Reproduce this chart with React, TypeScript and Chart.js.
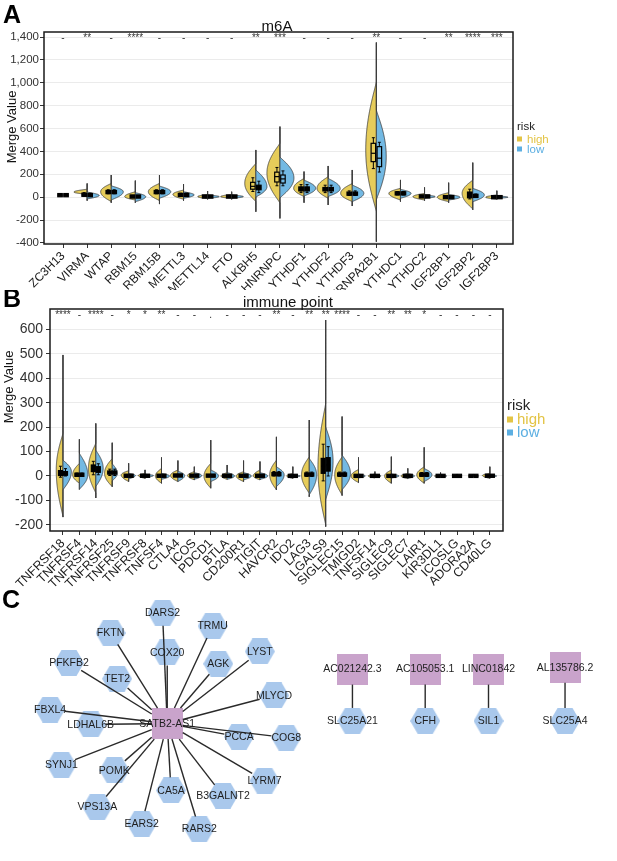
import React, { useEffect, useRef } from 'react';
import { Chart, registerables } from 'chart.js';
Chart.register(...registerables);

const FONT = 'Arial, "Liberation Sans", Helvetica, sans-serif';
Chart.defaults.font.family = FONT;

const YELLOW = '#E6CC5A';
const BLUE = '#73B9E3';
const YELLOW_TXT = '#E3C445';
const BLUE_TXT = '#5CAFE2';

// ---------------- Panel A: m6A ----------------
const m6aGenes = ['ZC3H13', 'VIRMA', 'WTAP', 'RBM15', 'RBM15B', 'METTL3', 'METTL14', 'FTO', 'ALKBH5', 'HNRNPC', 'YTHDF1', 'YTHDF2', 'YTHDF3', 'HNRNPA2B1', 'YTHDC1', 'YTHDC2', 'IGF2BP1', 'IGF2BP2', 'IGF2BP3'];
const m6aSignif = ['-', '**', '-', '****', '-', '-', '-', '-', '**', '***', '-', '-', '-', '**', '-', '-', '**', '****', '***'];
// [tail low, tail high]
const m6aTails = [[18, 18], [-30, 120], [-48, 194], [-48, 145], [-60, 194], [-30, 115], [-19, 54], [-19, 48], [-127, 413], [-185, 617], [-48, 224], [-68, 273], [-77, 238], [-389, 1352], [-39, 151], [-30, 86], [-48, 127], [-110, 302], [-20, 57]];
// [body low, peak, body high, half width]
const m6aHigh = [[15, 18, 21, 0], [25, 45, 70, 0.55], [-39, 48, 121, 0.44], [-25, 5, 48, 0.44], [-30, 48, 121, 0.46], [-18, 25, 63, 0.44], [-13, 5, 25, 0.41], [-10, 5, 25, 0.46], [-39, 121, 296, 0.46], [-51, 211, 473, 0.54], [5, 78, 165, 0.43], [-10, 78, 180, 0.46], [-39, 34, 121, 0.48], [-127, 413, 1010, 0.44], [-25, 34, 78, 0.48], [-25, 5, 34, 0.48], [-39, 0, 40, 0.47], [-103, 34, 150, 0.44], [-18, 0, 20, 0.46]];
const m6aLow = [[15, 18, 21, 0], [-15, 15, 45, 0.5], [-25, 48, 100, 0.5], [-40, 5, 40, 0.43], [-10, 48, 98, 0.47], [-10, 20, 48, 0.44], [-10, 5, 20, 0.48], [-10, 5, 20, 0.48], [0, 92, 240, 0.46], [-7, 168, 352, 0.58], [10, 78, 150, 0.48], [5, 75, 165, 0.5], [-39, 34, 107, 0.48], [-25, 354, 762, 0.41], [-10, 34, 69, 0.44], [-10, 5, 20, 0.44], [-25, 0, 25, 0.47], [-40, 20, 78, 0.48], [-10, 0, 12, 0.46]];
// [whisker low, q1, median, q3, whisker high]
const m6aHighBox = [[14, 16, 18, 20, 22], [10, 15, 20, 28, 40], [30, 38, 45, 52, 65], [0, 3, 6, 9, 15], [30, 38, 45, 52, 65], [10, 15, 20, 25, 35], [2, 4, 6, 8, 12], [2, 4, 6, 8, 12], [50, 70, 95, 130, 170], [100, 133, 180, 219, 260], [40, 55, 70, 90, 110], [40, 55, 65, 85, 105], [15, 22, 30, 40, 55], [250, 311, 384, 471, 520], [20, 27, 33, 40, 50], [2, 4, 7, 10, 14], [-5, -2, 0, 3, 6], [-15, -5, 20, 45, 70], [-3, -1, 0, 2, 4]];
const m6aLowBox = [[14, 16, 18, 20, 22], [5, 12, 18, 25, 35], [30, 38, 45, 52, 65], [0, 3, 6, 9, 15], [30, 38, 45, 52, 65], [10, 15, 20, 25, 35], [2, 4, 6, 8, 12], [2, 4, 6, 8, 12], [40, 65, 80, 105, 140], [100, 124, 160, 194, 230], [40, 55, 70, 90, 110], [40, 55, 65, 85, 105], [15, 22, 30, 40, 55], [220, 267, 341, 442, 480], [20, 27, 33, 40, 50], [2, 4, 7, 10, 14], [-5, -2, 0, 3, 6], [0, 5, 10, 18, 28], [-3, -1, 0, 2, 4]];
const m6aTicks = [-400, -200, 0, 200, 400, 600, 800, 1000, 1200, 1400];

// ---------------- Panel B: immune point ----------------
const immGenes = ['TNFRSF18', 'TNFRSF4', 'TNFRSF14', 'TNFRSF25', 'TNFRSF9', 'TNFRSF8', 'TNFSF4', 'CTLA4', 'ICOS', 'PDCD1', 'BTLA', 'CD200R1', 'TIGIT', 'HAVCR2', 'IDO2', 'LAG3', 'LGALS9', 'SIGLEC15', 'TMIGD2', 'TNFSF14', 'SIGLEC9', 'SIGLEC7', 'LAIR1', 'KIR3DL1', 'ICOSLG', 'ADORA2A', 'CD40LG'];
const immSignif = ['****', '-', '****', '-', '*', '*', '**', '-', '-', '.', '-', '-', '-', '**', '-', '**', '**', '****', '-', '-', '**', '**', '*', '-', '-', '-', '-'];
const immTails = [[-168, 495], [-55, 150], [-90, 215], [-44, 136], [-23, 52], [-10, 25], [-30, 76], [-23, 63], [-16, 38], [-50, 147], [-14, 45], [-23, 63], [-16, 59], [-57, 160], [-10, 38], [-85, 229], [-207, 638], [-80, 243], [-27, 76], [-8, 18], [-30, 79], [-11, 31], [-30, 117], [-5, 14], [-3, 8], [-3, 8], [-10, 38]];
const immHigh = [[-166, 25, 175, 0.41], [-30, 5, 52, 0.41], [-70, 31, 134, 0.45], [-44, 11, 72, 0.47], [-23, 4, 22, 0.45], [-10, 2, 11, 0.41], [-30, 0, 31, 0.37], [-23, 2, 25, 0.45], [-16, 2, 18, 0.41], [-50, 0, 52, 0.41], [-14, 0, 14, 0.37], [-23, 0, 18, 0.45], [-16, 0, 25, 0.41], [-57, 5, 65, 0.41], [-10, 0, 11, 0.37], [-71, 5, 79, 0.47], [-200, 30, 297, 0.47], [-78, 5, 79, 0.45], [-27, 0, 27, 0.45], [-8, 0, 8, 0.41], [-30, 0, 25, 0.41], [-11, 0, 11, 0.41], [-30, 5, 38, 0.45], [-5, 0, 5, 0.37], [-3, 0, 3, 0.31], [-3, 0, 3, 0.31], [-10, 2, 11, 0.45]];
const immLow = [[-57, 18, 65, 0.51], [-55, 5, 93, 0.51], [-44, 31, 106, 0.45], [-20, 11, 50, 0.31], [-12, 2, 11, 0.41], [-7, 2, 7, 0.51], [-14, 0, 11, 0.49], [-23, 2, 20, 0.41], [-14, 2, 14, 0.45], [-23, 0, 25, 0.47], [-14, 0, 14, 0.45], [-16, 0, 14, 0.47], [-14, 0, 14, 0.47], [-44, 5, 38, 0.47], [-5, 0, 5, 0.45], [-78, 5, 72, 0.45], [-98, 60, 202, 0.45], [-57, 10, 86, 0.51], [-8, 0, 8, 0.41], [-6, 0, 6, 0.37], [-8, 0, 8, 0.47], [-10, 0, 10, 0.41], [-23, 5, 31, 0.47], [-4, 0, 4, 0.37], [-3, 0, 3, 0.31], [-3, 0, 3, 0.31], [-6, 0, 6, 0.41]];
const immHighBox = [[-5, 2, 10, 22, 40], [0, 2, 5, 8, 12], [5, 18, 31, 45, 60], [2, 8, 14, 20, 28], [-2, 0, 1, 2, 4], [-1, 0, 1, 2, 3], [-2, 0, 1, 2, 4], [-2, 0, 2, 4, 6], [-2, 0, 1, 3, 5], [-2, 0, 1, 3, 5], [-2, 0, 1, 2, 4], [-2, 0, 1, 2, 4], [-2, 0, 1, 2, 4], [0, 3, 6, 12, 18], [-1, 0, 0, 1, 2], [-2, 2, 5, 10, 16], [-20, 11, 40, 72, 130], [-2, 2, 5, 10, 16], [-1, 0, 0, 1, 2], [-1, 0, 0, 1, 2], [-1, 0, 0, 1, 2], [-1, 0, 0, 1, 2], [-2, 2, 5, 9, 14], [-1, 0, 0, 1, 2], [-1, 0, 0, 1, 2], [-1, 0, 0, 1, 2], [-1, 0, 1, 2, 3]];
const immLowBox = [[0, 3, 8, 18, 30], [0, 2, 5, 8, 12], [5, 15, 25, 38, 50], [2, 8, 14, 20, 28], [-2, 0, 1, 2, 4], [-1, 0, 1, 2, 3], [-2, 0, 1, 2, 4], [-2, 0, 2, 4, 6], [-2, 0, 1, 3, 5], [-2, 0, 1, 3, 5], [-2, 0, 1, 2, 4], [-2, 0, 1, 2, 4], [-2, 0, 1, 2, 4], [0, 3, 6, 12, 18], [-1, 0, 0, 1, 2], [-2, 2, 5, 10, 16], [0, 20, 45, 75, 120], [-2, 2, 5, 10, 16], [-1, 0, 0, 1, 2], [-1, 0, 0, 1, 2], [-1, 0, 0, 1, 2], [-1, 0, 0, 1, 2], [-2, 2, 5, 9, 14], [-1, 0, 0, 1, 2], [-1, 0, 0, 1, 2], [-1, 0, 0, 1, 2], [-1, 0, 1, 2, 3]];
const immTicks = [-200, -100, 0, 100, 200, 300, 400, 500, 600];

// ---------------- Panel C: network ----------------
const lncNames = ['SATB2-AS1', 'AC021242.3', 'AC105053.1', 'LINC01842', 'AL135786.2'];
const lncX = [159, 355, 432, 499, 580];
const lncY = [144, 82, 82, 82, 80];
const geneNames = ['DARS2', 'FKTN', 'TRMU', 'COX20', 'LYST', 'PFKFB2', 'AGK', 'TET2', 'MLYCD', 'FBXL4', 'LDHAL6B', 'PCCA', 'COG8', 'SYNJ1', 'POMK', 'LYRM7', 'CA5A', 'B3GALNT2', 'VPS13A', 'EARS2', 'RARS2', 'SLC25A21', 'CFH', 'SIL1', 'SLC25A4'];
const geneX = [154, 99, 207, 159, 257, 55, 213, 106, 272, 35, 78, 235, 285, 47, 103, 262, 163, 218, 85, 132, 193, 355, 432, 499, 580];
const geneY = [18, 41, 33, 63, 62, 75, 76, 93, 112, 128, 145, 159, 160, 191, 197, 209, 220, 226, 239, 258, 264, 141, 141, 141, 141];
const netEdges = [
  ['SATB2-AS1', 'DARS2'], ['SATB2-AS1', 'FKTN'], ['SATB2-AS1', 'TRMU'], ['SATB2-AS1', 'COX20'], ['SATB2-AS1', 'LYST'],
  ['SATB2-AS1', 'PFKFB2'], ['SATB2-AS1', 'AGK'], ['SATB2-AS1', 'TET2'], ['SATB2-AS1', 'MLYCD'], ['SATB2-AS1', 'FBXL4'],
  ['SATB2-AS1', 'LDHAL6B'], ['SATB2-AS1', 'PCCA'], ['SATB2-AS1', 'COG8'], ['SATB2-AS1', 'SYNJ1'], ['SATB2-AS1', 'POMK'],
  ['SATB2-AS1', 'LYRM7'], ['SATB2-AS1', 'CA5A'], ['SATB2-AS1', 'B3GALNT2'], ['SATB2-AS1', 'VPS13A'], ['SATB2-AS1', 'EARS2'],
  ['SATB2-AS1', 'RARS2'], ['AC021242.3', 'SLC25A21'], ['AC105053.1', 'CFH'], ['LINC01842', 'SIL1'], ['AL135786.2', 'SLC25A4'],
];

// ---------------- drawing helpers ----------------
function drawHalf(ctx: any, xs: any, ys: any, i: number, side: number, tail: number[], body: number[], color: string) {
  const [lo, hi] = tail;
  const [bLo, peak, bHi, w] = body;
  if (hi <= lo) return;
  const spanUp = Math.max(bHi - peak, 0.5);
  const spanDn = Math.max(peak - bLo, 0.5);
  const N = 260;
  const cx = xs.getPixelForValue(i);
  ctx.beginPath();
  ctx.moveTo(cx, ys.getPixelForValue(lo));
  for (let k = 0; k <= N; k++) {
    const v = lo + ((hi - lo) * k) / N;
    const d = v >= peak ? (v - peak) / spanUp : (peak - v) / spanDn;
    const g = d >= 1 ? 0 : Math.pow(1 - d * d, 1.15);
    ctx.lineTo(xs.getPixelForValue(i + side * w * g), ys.getPixelForValue(v));
  }
  ctx.lineTo(cx, ys.getPixelForValue(hi));
  ctx.closePath();
  ctx.fillStyle = color;
  ctx.fill();
  ctx.lineWidth = 0.8;
  ctx.strokeStyle = '#3a3a3a';
  ctx.stroke();
}

function drawBox(ctx: any, xs: any, ys: any, i: number, side: number, box: number[], color: string, off: number, bw: number, solid: boolean) {
  const [wl, q1, med, q3, wh] = box;
  const cx = xs.getPixelForValue(i) + side * off;
  const yWl = ys.getPixelForValue(wl);
  const yWh = ys.getPixelForValue(wh);
  let y1 = ys.getPixelForValue(q1);
  let y3 = ys.getPixelForValue(q3);
  const small = solid || y1 - y3 < 6;
  if (y1 - y3 < 3.2) {
    const m = (y1 + y3) / 2;
    y1 = m + 1.6;
    y3 = m - 1.6;
  }
  ctx.strokeStyle = '#000';
  ctx.lineWidth = 1;
  ctx.beginPath();
  ctx.moveTo(cx, yWl);
  ctx.lineTo(cx, yWh);
  ctx.moveTo(cx - 1.5, yWl);
  ctx.lineTo(cx + 1.5, yWl);
  ctx.moveTo(cx - 1.5, yWh);
  ctx.lineTo(cx + 1.5, yWh);
  ctx.stroke();
  ctx.fillStyle = small ? '#000' : color;
  ctx.fillRect(cx - bw / 2, y3, bw, y1 - y3);
  ctx.lineWidth = 1.2;
  ctx.strokeRect(cx - bw / 2, y3, bw, y1 - y3);
  const ym = ys.getPixelForValue(med);
  ctx.beginPath();
  ctx.moveTo(cx - bw / 2, ym);
  ctx.lineTo(cx + bw / 2, ym);
  ctx.stroke();
}

type Panel = {
  id: string;
  genes: string[]; signif: string[]; tails: number[][]; high: number[][]; low: number[][];
  highBox: number[][]; lowBox: number[][]; ticks: number[];
  xMin: number; xMax: number; yMin: number; yMax: number;
  padTop: number; padRight: number; yAxisW: number; xAxisH: number;
  tickSize: number; labelSize: number; tickPad: number; fmt: (v: number) => string;
  title: string; titleX: number; titleY: number;
  yTitleX: number; yTitleY: number; letter: string; letterY: number;
  leg: { x: number; textX: number; riskY: number; highY: number; lowY: number; size: number; sq: number };
  boxOff: number; boxW: number; solidBox: boolean;
};

function violinConfig(p: Panel): any {
  const plugin = {
    id: 'violin_' + p.id,
    beforeDatasetsDraw(chart: any) {
      const { ctx, chartArea: ca, scales } = chart;
      const xs = scales.x, ys = scales.y;
      ctx.save();
      ctx.beginPath();
      ctx.rect(ca.left, ca.top, ca.right - ca.left, ca.bottom - ca.top);
      ctx.clip();
      p.genes.forEach((_, i) => {
        drawHalf(ctx, xs, ys, i, -1, p.tails[i], p.high[i], YELLOW);
        drawHalf(ctx, xs, ys, i, 1, p.tails[i], p.low[i], BLUE);
      });
      p.genes.forEach((_, i) => {
        drawBox(ctx, xs, ys, i, -1, p.highBox[i], YELLOW, p.boxOff, p.boxW, p.solidBox);
        drawBox(ctx, xs, ys, i, 1, p.lowBox[i], BLUE, p.boxOff, p.boxW, p.solidBox);
      });
      ctx.restore();
    },
    afterDraw(chart: any) {
      const { ctx, chartArea: ca, scales } = chart;
      const xs = scales.x;
      ctx.save();
      ctx.strokeStyle = '#1a1a1a';
      ctx.lineWidth = 1.5;
      ctx.strokeRect(ca.left, ca.top, ca.right - ca.left, ca.bottom - ca.top);
      ctx.fillStyle = '#333';
      ctx.font = `10px ${FONT}`;
      ctx.textAlign = 'center';
      ctx.textBaseline = 'alphabetic';
      p.signif.forEach((s, i) => ctx.fillText(s, xs.getPixelForValue(i), ca.top + 8.5));
      ctx.fillStyle = '#111';
      ctx.font = `15px ${FONT}`;
      ctx.fillText(p.title, p.titleX, p.titleY);
      ctx.save();
      ctx.translate(p.yTitleX, p.yTitleY);
      ctx.rotate(-Math.PI / 2);
      ctx.textBaseline = 'middle';
      ctx.font = `13px ${FONT}`;
      ctx.fillText('Merge Value', 0, 0);
      ctx.restore();
      ctx.font = `bold 25px ${FONT}`;
      ctx.textAlign = 'left';
      ctx.fillStyle = '#000';
      ctx.fillText(p.letter, 3, p.letterY);
      const L = p.leg;
      ctx.font = `${L.size}px ${FONT}`;
      ctx.fillStyle = '#222';
      ctx.fillText('risk', L.x, L.riskY);
      ctx.fillStyle = YELLOW_TXT;
      ctx.fillRect(L.x, L.highY - L.sq - 1.5, L.sq, L.sq);
      ctx.fillText('high', L.textX, L.highY);
      ctx.fillStyle = BLUE_TXT;
      ctx.fillRect(L.x, L.lowY - L.sq - 1.5, L.sq, L.sq);
      ctx.fillText('low', L.textX, L.lowY);
      ctx.restore();
    },
  };
  return {
    type: 'scatter',
    data: {
      datasets: [
        { label: 'high', data: p.highBox.map((b, i) => ({ x: i, y: b[2] })), pointRadius: 0, backgroundColor: YELLOW },
        { label: 'low', data: p.lowBox.map((b, i) => ({ x: i, y: b[2] })), pointRadius: 0, backgroundColor: BLUE },
      ],
    },
    options: {
      animation: false,
      responsive: false,
      events: [],
      layout: { padding: { left: 0, top: p.padTop, right: p.padRight, bottom: 0 } },
      plugins: { legend: { display: false }, tooltip: { enabled: false }, title: { display: false } },
      scales: {
        x: {
          type: 'linear', min: p.xMin, max: p.xMax,
          afterBuildTicks: (s: any) => { s.ticks = p.genes.map((_, i) => ({ value: i })); },
          afterFit: (s: any) => { s.height = p.xAxisH; s.paddingLeft = 0; s.paddingRight = 0; },
          grid: { drawOnChartArea: false, tickLength: 4, tickColor: '#333', lineWidth: 1 },
          border: { display: false },
          ticks: {
            autoSkip: false, maxRotation: 45, minRotation: 45, padding: 1,
            font: { size: p.labelSize }, color: '#1a1a1a',
            callback: (v: any) => p.genes[Math.round(v)] ?? '',
          },
        },
        y: {
          type: 'linear', min: p.yMin, max: p.yMax,
          afterBuildTicks: (s: any) => { s.ticks = p.ticks.map((v) => ({ value: v })); },
          afterFit: (s: any) => { s.width = p.yAxisW; },
          grid: { color: '#EBEBEB', lineWidth: 1, tickLength: 4, tickColor: '#333' },
          border: { display: false },
          ticks: { font: { size: p.tickSize }, color: '#333', padding: p.tickPad, callback: (v: any) => p.fmt(v) },
        },
      },
    },
    plugins: [plugin],
  };
}

const panelA: Panel = {
  id: 'A', genes: m6aGenes, signif: m6aSignif, tails: m6aTails, high: m6aHigh, low: m6aLow,
  highBox: m6aHighBox, lowBox: m6aLowBox, ticks: m6aTicks,
  xMin: -0.79, xMax: 18.67, yMin: -409, yMax: 1444,
  padTop: 32, padRight: 104, yAxisW: 44, xAxisH: 46,
  tickSize: 11.5, labelSize: 12, tickPad: 1, fmt: (v) => Number(v).toLocaleString('en-US'),
  title: 'm6A', titleX: 277, titleY: 31, yTitleX: 12, yTitleY: 127, letter: 'A', letterY: 23,
  leg: { x: 517, textX: 527, riskY: 130, highY: 143, lowY: 153, size: 11.5, sq: 5 },
  boxOff: 3, boxW: 4.5, solidBox: false,
};

const panelB: Panel = {
  id: 'B', genes: immGenes, signif: immSignif, tails: immTails, high: immHigh, low: immLow,
  highBox: immHighBox, lowBox: immLowBox, ticks: immTicks,
  xMin: -0.79, xMax: 26.8, yMin: -225, yMax: 683,
  padTop: 19, padRight: 114, yAxisW: 50, xAxisH: 59,
  tickSize: 14, labelSize: 12.5, tickPad: 3, fmt: (v) => String(v),
  title: 'immune point', titleX: 288, titleY: 17, yTitleX: 9, yTitleY: 97, letter: 'B', letterY: 17,
  leg: { x: 507, textX: 517, riskY: 120, highY: 134, lowY: 147, size: 15, sq: 6 },
  boxOff: 2.5, boxW: 4, solidBox: true,
};

function makeHex(w: number, h: number, fill: string) {
  const c = document.createElement('canvas');
  c.width = w;
  c.height = h;
  const g = c.getContext('2d') as CanvasRenderingContext2D;
  g.beginPath();
  g.moveTo(0, h / 2);
  g.lineTo(w * 0.25, 0);
  g.lineTo(w * 0.75, 0);
  g.lineTo(w, h / 2);
  g.lineTo(w * 0.75, h);
  g.lineTo(w * 0.25, h);
  g.closePath();
  g.fillStyle = fill;
  g.fill();
  return c;
}

function makeSquare(s: number, fill: string) {
  const c = document.createElement('canvas');
  c.width = s;
  c.height = s;
  const g = c.getContext('2d') as CanvasRenderingContext2D;
  g.fillStyle = fill;
  g.fillRect(0, 0, s, s);
  return c;
}

function networkConfig(): any {
  const hex = makeHex(30, 26, '#A9C8EC');
  const sq = makeSquare(31, '#C9A3CB');
  const pos: Record<string, { x: number; y: number; kind: string }> = {};
  lncNames.forEach((n, i) => { pos[n] = { x: lncX[i], y: lncY[i], kind: 'lnc' }; });
  geneNames.forEach((n, i) => { pos[n] = { x: geneX[i], y: geneY[i], kind: 'gene' }; });
  const plugin = {
    id: 'network',
    afterDatasetsDraw(chart: any) {
      const { ctx, scales } = chart;
      const xs = scales.x, ys = scales.y;
      ctx.save();
      ctx.strokeStyle = '#2a2a2a';
      ctx.lineWidth = 1.4;
      netEdges.forEach(([a, b]) => {
        const A = pos[a], B = pos[b];
        const ax = xs.getPixelForValue(A.x), ay = ys.getPixelForValue(A.y);
        const bx = xs.getPixelForValue(B.x), by = ys.getPixelForValue(B.y);
        const dx = bx - ax, dy = by - ay;
        const t1 = Math.min(15.5 / Math.max(Math.abs(dx), 1e-6), 15.5 / Math.max(Math.abs(dy), 1e-6));
        const t2 = 1 / Math.sqrt((dx / 15) ** 2 + (dy / 13) ** 2);
        ctx.beginPath();
        ctx.moveTo(ax + dx * t1, ay + dy * t1);
        ctx.lineTo(bx - dx * t2, by - dy * t2);
        ctx.stroke();
      });
      ctx.fillStyle = '#1e1e1e';
      ctx.font = `10.5px ${FONT}`;
      ctx.textAlign = 'center';
      ctx.textBaseline = 'middle';
      Object.keys(pos).forEach((n) => {
        ctx.fillText(n, xs.getPixelForValue(pos[n].x), ys.getPixelForValue(pos[n].y) + 0.5);
      });
      ctx.font = `bold 25px ${FONT}`;
      ctx.textAlign = 'left';
      ctx.textBaseline = 'alphabetic';
      ctx.fillStyle = '#000';
      ctx.fillText('C', 2, 28);
      ctx.restore();
    },
  };
  return {
    type: 'scatter',
    data: {
      datasets: [
        { label: 'lncRNA', data: lncNames.map((_, i) => ({ x: lncX[i], y: lncY[i] })), pointStyle: sq, pointRadius: 16 },
        { label: 'mRNA', data: geneNames.map((_, i) => ({ x: geneX[i], y: geneY[i] })), pointStyle: hex, pointRadius: 15 },
      ],
    },
    options: {
      animation: false,
      responsive: false,
      events: [],
      layout: { padding: 0 },
      plugins: { legend: { display: false }, tooltip: { enabled: false } },
      scales: {
        x: { type: 'linear', min: 0, max: 617, display: false },
        y: { type: 'linear', min: 0, max: 281, reverse: true, display: false },
      },
    },
    plugins: [plugin],
  };
}

function ChartCanvas({ top, width, height, make }: { top: number; width: number; height: number; make: () => any }) {
  const ref = useRef<HTMLCanvasElement | null>(null);
  useEffect(() => {
    if (!ref.current) return;
    const chart = new Chart(ref.current, make());
    return () => chart.destroy();
  }, []);
  return (
    <div style={{ position: 'absolute', left: 0, top, width, height }}>
      <canvas ref={ref} width={width} height={height} style={{ width, height, display: 'block' }} />
    </div>
  );
}

export default function App() {
  return (
    <div style={{ position: 'absolute', left: 0, top: 0, width: 617, height: 861, background: '#fff', overflow: 'hidden' }}>
      <ChartCanvas top={0} width={617} height={290} make={() => violinConfig(panelA)} />
      <ChartCanvas top={290} width={617} height={300} make={() => violinConfig(panelB)} />
      <ChartCanvas top={580} width={617} height={281} make={networkConfig} />
    </div>
  );
}
